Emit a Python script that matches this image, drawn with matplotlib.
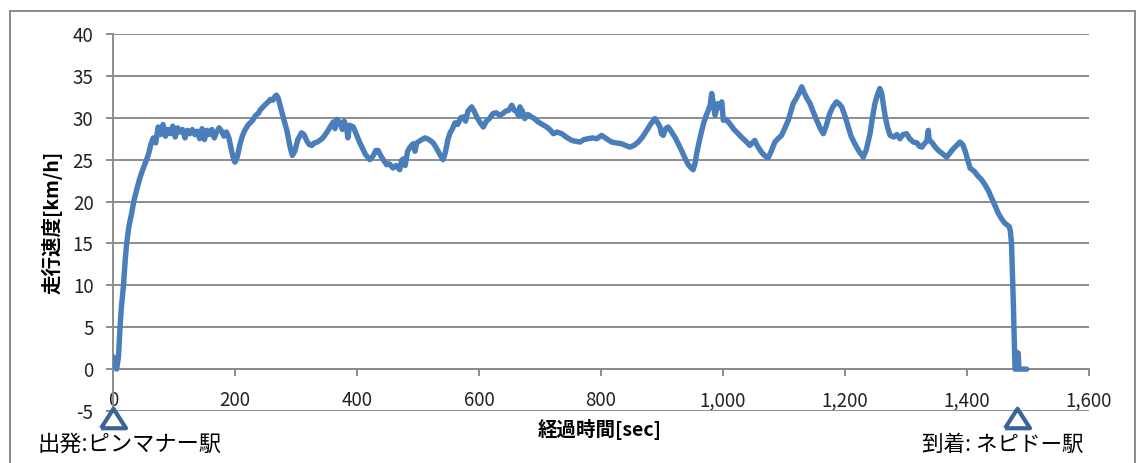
import matplotlib
matplotlib.use("Agg")
import matplotlib.pyplot as plt
from matplotlib.patches import Rectangle
from matplotlib.ticker import FuncFormatter, MultipleLocator

plt.rcParams['font.family'] = ['Noto Sans CJK JP', 'DejaVu Sans']
plt.rcParams['axes.unicode_minus'] = False

# elapsed time [sec] and running speed [km/h]
elapsed_sec = [
    0, 3, 6, 9, 11.5, 14, 17, 20, 22.4, 26, 30.6, 34, 38.8, 44, 49.7, 54, 58, 62, 66, 70,
    74, 78, 82, 86, 90, 94, 98, 102, 106, 110, 114, 118, 122, 126, 130, 134, 138, 142,
    146, 150, 154, 158, 162, 166, 170, 174, 178, 182, 186, 190, 194, 198, 200, 204, 208,
    212, 216, 222, 228, 234, 238, 242, 246, 250, 254.6, 258, 262, 266, 268, 271, 276,
    280, 285, 290, 294, 298, 303, 309, 313, 318, 322, 326, 330, 335, 339, 344, 350, 355,
    361, 364, 367, 372, 376, 379, 383, 385, 388, 394, 398, 403, 408, 414, 421, 426, 431,
    434.7, 438, 443, 448.6, 453, 459, 464, 470, 473, 476, 479, 483, 487, 492, 495, 498,
    504, 511.5, 518, 525, 530, 536, 541, 545, 549, 552.5, 556, 560.6, 565, 570, 574, 578,
    582, 588, 592, 597, 602, 607, 612, 617, 623, 628, 634, 639, 644, 649, 653.6, 658, 662,
    665, 667, 671, 675, 680, 686, 691, 697, 704, 711, 716, 722, 728, 735.6, 743, 752, 758,
    765.6, 772, 779, 786, 793, 801, 809, 817.5, 825, 834, 840, 847.5, 854, 861, 868, 875,
    882, 888.5, 893, 896.7, 899, 902, 906, 910, 915, 921, 926, 932, 937, 943, 948, 951,
    954, 957, 962, 968, 972, 976, 979, 981.5, 984, 987, 990, 992, 995, 998, 1000.5, 1005,
    1011, 1018, 1025, 1030, 1036, 1044, 1048, 1052, 1056, 1063, 1068, 1074, 1079, 1085,
    1090, 1096, 1101, 1107, 1111, 1115, 1120, 1125, 1129, 1133, 1137, 1142.6, 1148,
    1153.6, 1159, 1164.4, 1169, 1175, 1180, 1186, 1190, 1194.6, 1200, 1205.4, 1210, 1216,
    1223, 1230, 1235, 1241, 1245, 1249, 1253, 1257, 1260, 1263, 1266, 1270, 1274, 1280,
    1285, 1290, 1295, 1301, 1306, 1312, 1318, 1322, 1326, 1330, 1334, 1336.6, 1338, 1342,
    1347, 1353, 1360, 1366.7, 1372, 1377.5, 1383, 1388.5, 1393, 1396.7, 1401, 1405, 1412,
    1418.5, 1424, 1429.5, 1435, 1440.5, 1446, 1451.3, 1457, 1462.3, 1466, 1469.4, 1471,
    1473, 1476, 1478.7, 1481, 1482, 1484, 1485, 1487, 1492, 1498,
]
speed_kmh = [
    1.5, 0.3, 0.0, 1.5, 5.0, 7.6, 9.8, 13.0, 15.0, 17.0, 18.6, 20.0, 21.4, 22.8, 24.0, 24.8, 25.6, 26.8, 27.6, 27.0,
    28.9, 28.0, 29.2, 27.8, 28.6, 28.1, 29.0, 27.7, 28.8, 28.3, 28.6, 27.6, 28.5, 28.1, 28.6, 28.0, 28.4, 27.5,
    28.7, 27.4, 28.5, 28.0, 28.6, 27.6, 28.3, 28.8, 28.4, 27.8, 28.3, 27.6, 26.2, 25.0, 24.7, 25.4, 26.8,
    27.8, 28.5, 29.2, 29.6, 30.3, 30.5, 31.0, 31.3, 31.6, 31.9, 32.2, 32.1, 32.6, 32.7, 32.3, 30.9,
    29.8, 28.5, 26.6, 25.5, 26.0, 27.4, 28.2, 28.0, 27.2, 26.8, 26.7, 27.0, 27.1, 27.3, 27.6, 28.2, 28.8,
    29.5, 28.7, 29.8, 29.4, 28.6, 29.6, 28.9, 27.6, 29.1, 28.9, 28.2, 27.3, 26.5, 25.6, 25.0, 25.4, 26.1,
    26.1, 25.6, 25.0, 24.4, 24.5, 24.0, 24.3, 23.8, 24.9, 25.1, 24.3, 26.0, 26.5, 26.9, 26.0, 27.0,
    27.3, 27.6, 27.4, 27.0, 26.4, 25.6, 25.0, 25.9, 27.4, 28.2, 28.6, 29.4, 29.2, 30.0, 30.1, 29.6,
    30.8, 31.3, 30.8, 30.0, 29.4, 28.9, 29.6, 29.9, 30.5, 30.6, 30.3, 30.5, 30.8, 30.9, 31.5, 30.9, 30.7,
    30.2, 31.3, 30.8, 29.9, 30.4, 30.1, 29.9, 29.5, 29.2, 28.9, 28.6, 28.1, 28.3, 28.1, 27.7, 27.3, 27.2,
    27.1, 27.4, 27.5, 27.6, 27.5, 27.9, 27.5, 27.1, 27.0, 26.9, 26.7, 26.5, 26.7, 27.1, 27.7, 28.5,
    29.3, 29.9, 29.4, 28.9, 28.1, 27.9, 28.7, 28.9, 28.4, 27.7, 27.0, 26.1, 25.3, 24.4, 24.0, 23.8,
    24.5, 25.8, 27.5, 29.3, 30.2, 30.9, 31.5, 32.9, 31.8, 30.3, 31.2, 31.7, 31.2, 31.9, 29.7, 29.8,
    29.3, 28.6, 28.1, 27.7, 27.3, 26.7, 27.0, 27.3, 26.7, 25.9, 25.5, 25.2, 26.0, 27.1,
    27.5, 27.9, 28.7, 29.7, 30.7, 31.7, 32.3, 33.0, 33.7, 33.0, 32.4, 31.7, 30.7,
    29.7, 28.8, 28.1, 29.0, 30.5, 31.3, 31.9, 31.7, 31.3, 30.2, 28.9, 27.8, 26.9,
    26.0, 25.3, 26.2, 28.1, 30.0, 31.7, 32.7, 33.5, 33.0, 31.5, 30.1, 28.8, 27.9, 27.7,
    28.0, 27.5, 28.0, 28.1, 27.5, 27.1, 27.0, 26.6, 26.5, 26.9, 27.2, 28.5, 27.3, 27.1,
    26.6, 26.1, 25.7, 25.3, 25.8, 26.3, 26.7, 27.1, 26.8, 26.1, 25.0, 24.0, 23.6,
    23.0, 22.6, 22.0, 21.3, 20.4, 19.5, 18.6, 17.9, 17.4, 17.2, 17.0, 16.5,
    15.0, 7.8, 0.0, 0.0, 2.0, 1.9, 0.0, 0.0, 0.0, 0.0,
]

# departure / arrival times and station names
station_sec = [0, 1482]
depart_label = "出発:ピンマナー駅"
arrive_label = "到着: ネピドー駅"

fig = plt.figure(figsize=(11.39, 4.63), dpi=100)
ax = fig.add_axes([113 / 1139, 1 - 411 / 463, 976 / 1139, 377 / 463])

ax.plot(elapsed_sec, speed_kmh, color='#4A7EBB', lw=3.9, solid_joinstyle='round',
        solid_capstyle='round', zorder=3)

ax.set_xlim(0, 1600)
ax.set_ylim(-5, 40)
ax.xaxis.set_major_locator(MultipleLocator(200))
ax.yaxis.set_major_locator(MultipleLocator(5))
ax.xaxis.set_major_formatter(FuncFormatter(lambda v, p: f"{v:,.0f}"))

grid_c = '#8C8C8C'
ax.grid(axis='y', color=grid_c, lw=1.4, zorder=1)
ax.set_axisbelow(True)
for s in ['top', 'right']:
    ax.spines[s].set_visible(False)
ax.spines['bottom'].set_position(('data', 0))
ax.spines['bottom'].set_color(grid_c)
ax.spines['bottom'].set_linewidth(1.4)
ax.spines['left'].set_color(grid_c)
ax.spines['left'].set_linewidth(1.4)

ax.tick_params(axis='y', direction='out', length=5, width=1.4, color=grid_c,
               labelsize=13.5, labelcolor='#222222', pad=9)
ax.tick_params(axis='x', direction='out', length=5, width=1.4, color=grid_c,
               labelsize=13.5, labelcolor='#222222', pad=10)

# station markers under the axis
tri = [(-1, -0.78), (1, -0.78), (0, 0.78), (-1, -0.78)]
ax.plot(station_sec, [-5.8] * len(station_sec), ls='none', marker=tri, ms=18,
        mfc='white', mec='#3B6396', mew=3.0, clip_on=False, zorder=5)

fig.text(52 / 1139, 1 - 222 / 463, "走行速度[km/h]", rotation=90, ha='center',
         va='center', fontsize=14, fontweight='bold')
fig.text(600 / 1139, 1 - 430 / 463, "経過時間[sec]", ha='center', va='center',
         fontsize=14, fontweight='bold')
fig.text(38 / 1139, 1 - 444 / 463, depart_label, ha='left', va='center', fontsize=16)
fig.text(1084 / 1139, 1 - 445 / 463, arrive_label, ha='right', va='center', fontsize=15.5)

fig.patches.append(Rectangle((10 / 1139, -0.2), 1125 / 1139, 0.2 + 1 - 11 / 463,
                             transform=fig.transFigure, fill=False,
                             edgecolor='#8A8A8A', lw=1.4))

fig.savefig("out.png", dpi=100)
